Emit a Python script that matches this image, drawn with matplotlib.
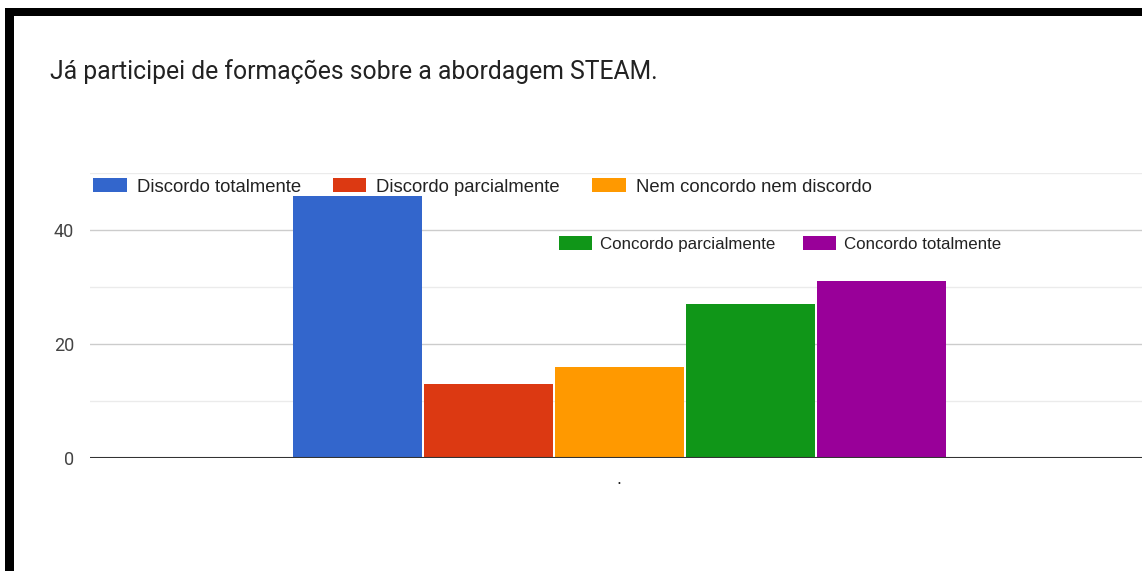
import numpy as np
import matplotlib.pyplot as plt
from matplotlib.patches import Rectangle, Patch

title = "Já participei de formações sobre a abordagem STEAM."
categories = ["Discordo totalmente", "Discordo parcialmente", "Nem concordo nem discordo",
              "Concordo parcialmente", "Concordo totalmente"]
values = [46, 13, 16, 27, 31]
colors = ["#3366cc", "#dc3912", "#ff9900", "#109618", "#990099"]
yticks = [0, 20, 40]

W, H = 1142, 571
fig = plt.figure(figsize=(W / 100, H / 100), dpi=100)
fig.patch.set_facecolor("white")

# black frame pieces (top + left) of the screenshot
fig.patches.append(Rectangle((5 / W, 1 - 16 / H), 1 - 5 / W, 8 / H, transform=fig.transFigure,
                             facecolor="black", edgecolor="none", zorder=5))
fig.patches.append(Rectangle((5 / W, 0), 9 / W, 1 - 8 / H, transform=fig.transFigure,
                             facecolor="black", edgecolor="none", zorder=5))

ax = fig.add_axes([90 / W, 1 - 458 / H, 1 - 90 / W, (458 - 173) / H])
x = np.arange(len(values))
ax.bar(x, values, width=0.985, color=colors, zorder=3)
ax.set_xlim(-2.04, 5.99)
ax.set_ylim(0, 50)

for s in ax.spines.values():
    s.set_visible(False)
ax.axhline(0, color="#333333", lw=1.5, zorder=4)
for v in [10, 30, 50]:
    ax.axhline(v, color="#ebebeb", lw=1, zorder=1)
for v in [20, 40]:
    ax.axhline(v, color="#cccccc", lw=1, zorder=1)

ax.set_yticks(yticks)
ax.set_yticklabels([str(t) for t in yticks], fontsize=13, color="#444444", family="Roboto")
ax.tick_params(axis="y", length=0, pad=11.5)
ax.set_xticks([2])
ax.set_xticklabels(["."], fontsize=11, color="#222222")
ax.tick_params(axis="x", length=0, pad=10)

fig.text(50 / W, 1 - 72 / H, title, fontsize=17.8, family="Roboto", color="#222222", va="center")

handles = [Patch(facecolor=c, edgecolor="none") for c in colors]
leg1 = ax.legend(handles[:3], categories[:3], ncol=3, frameon=False,
                 handlelength=1.83, handleheight=0.75, handletextpad=0.54, columnspacing=1.72,
                 borderpad=0, borderaxespad=0, loc="center left",
                 bbox_to_anchor=(93 / W, 1 - 187 / H), bbox_transform=fig.transFigure,
                 prop={"family": "Liberation Sans", "size": 13.3})
for t in leg1.get_texts():
    t.set_color("#222222")
ax.add_artist(leg1)
leg2 = ax.legend(handles[3:], categories[3:], ncol=2, frameon=False,
                 handlelength=1.95, handleheight=0.85, handletextpad=0.47, columnspacing=1.65,
                 borderpad=0, borderaxespad=0, loc="center left",
                 bbox_to_anchor=(559 / W, 1 - 244 / H), bbox_transform=fig.transFigure,
                 prop={"family": "Liberation Sans", "size": 12.2})
for t in leg2.get_texts():
    t.set_color("#222222")
leg1.set_zorder(6)
leg2.set_zorder(6)

fig.savefig("out.png", dpi=100)
